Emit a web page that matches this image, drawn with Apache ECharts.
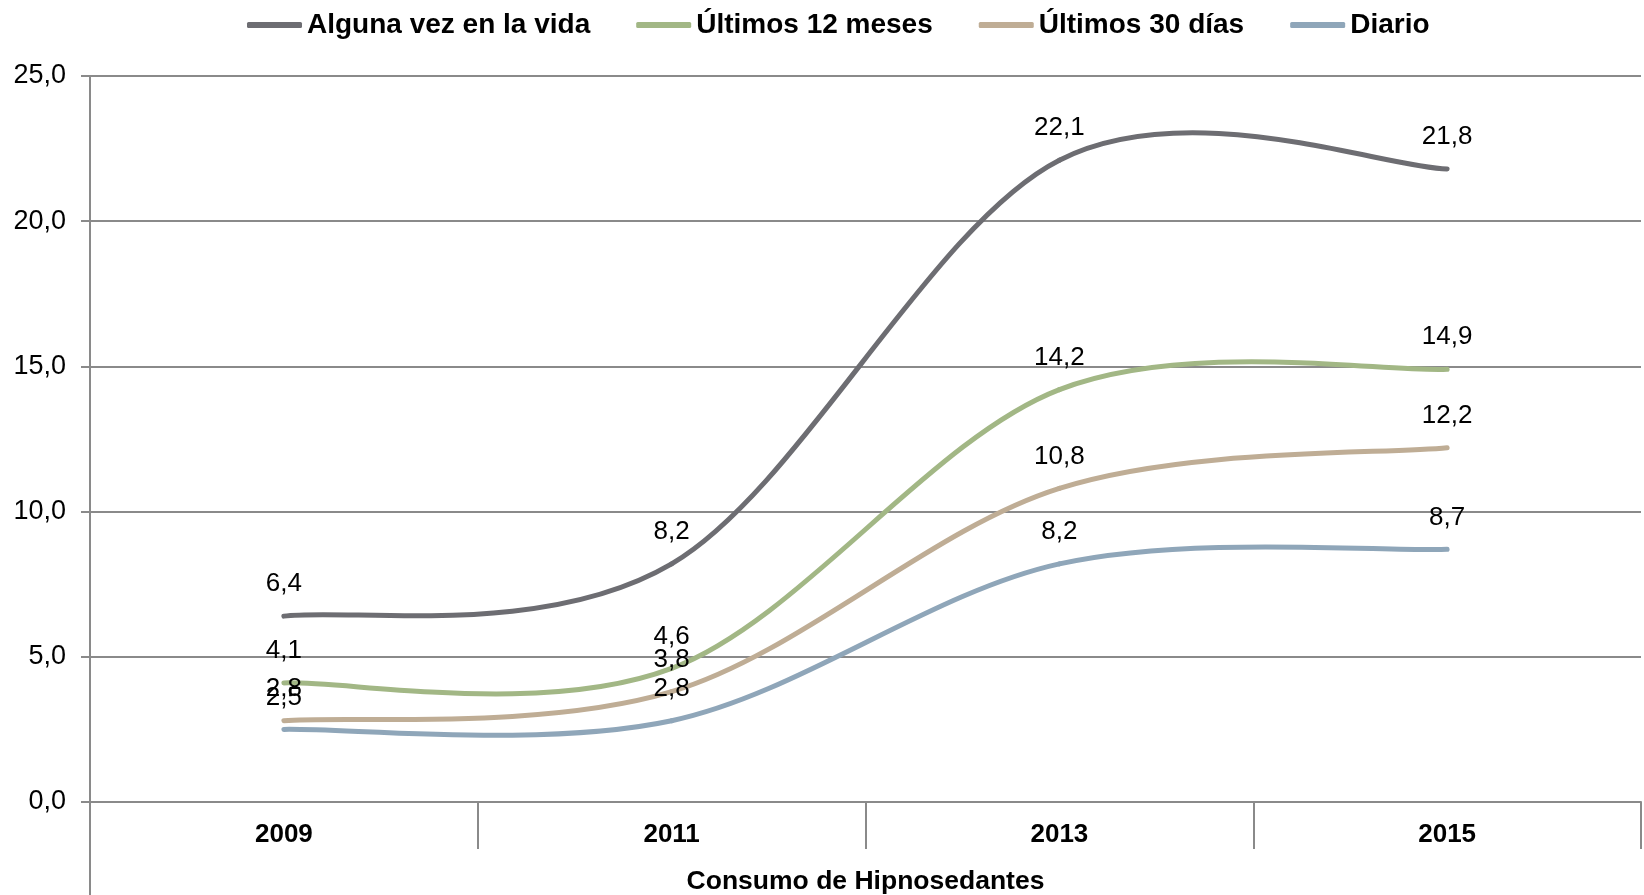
<!DOCTYPE html>
<html style="height: 100%">
    <head>
        <meta charset="utf-8">
    </head>
    <body style="height: 100%; margin: 0; background: #fff">
        <div id="container" style="width: 1644px; height: 895px"></div>

        <script type="text/javascript" src="https://cdn.jsdelivr.net/npm/echarts@6/dist/echarts.min.js"></script>

        <script type="text/javascript">
var years = ['2009', '2011', '2013', '2015'];
var yTicks = [0, 5, 10, 15, 20, 25];

var seriesNames = ['Alguna vez en la vida', 'Últimos 12 meses', 'Últimos 30 días', 'Diario'];
var algunaVez = [6.4, 8.2, 22.1, 21.8];
var ultimos12 = [4.1, 4.6, 14.2, 14.9];
var ultimos30 = [2.8, 3.8, 10.8, 12.2];
var diario = [2.5, 2.8, 8.2, 8.7];

var colors = ['#6d6d72', '#a2b785', '#bfad95', '#8fa6b9'];

var FONT = 'Liberation Sans, Arial, sans-serif';
var GRID_LEFT = 90, GRID_RIGHT = 3, GRID_TOP = 76, GRID_BOTTOM = 93;
var AXIS_COLOR = '#8a8a8a';

function comma(v) {
    return Number(v).toFixed(1).replace('.', ',');
}

var dom = document.getElementById('container');
var myChart = echarts.init(dom);

// Excel style smoothed line: each item draws the bezier to the next point
// (control points from the neighbours, factor 1/6) plus its value label
var makeSeries = function (name, values, color) {
    var n = values.length;
    return {
        name: name,
        type: 'custom',
        data: values.map(function (v, i) { return [i, v]; }),
        encode: { x: 0, y: 1 },
        itemStyle: { color: color },
        renderItem: function (params, api) {
            var i = params.dataIndex;
            var pts = values.map(function (v, k) { return api.coord([k, v]); });
            var children = [];
            if (i < n - 1) {
                var p0 = pts[Math.max(i - 1, 0)];
                var p1 = pts[i];
                var p2 = pts[i + 1];
                var p3 = pts[Math.min(i + 2, n - 1)];
                children.push({
                    type: 'bezierCurve',
                    shape: {
                        x1: p1[0], y1: p1[1],
                        x2: p2[0], y2: p2[1],
                        cpx1: p1[0] + (p2[0] - p0[0]) / 6,
                        cpy1: p1[1] + (p2[1] - p0[1]) / 6,
                        cpx2: p2[0] - (p3[0] - p1[0]) / 6,
                        cpy2: p2[1] - (p3[1] - p1[1]) / 6
                    },
                    style: { stroke: color, lineWidth: 5, fill: null, lineCap: 'round' }
                });
            }
            children.push({
                type: 'text',
                x: pts[i][0],
                y: pts[i][1] - 32,
                z2: 10,
                style: {
                    text: comma(values[i]),
                    fill: '#000',
                    fontFamily: FONT,
                    fontSize: 26,
                    align: 'center',
                    verticalAlign: 'middle'
                }
            });
            return { type: 'group', children: children };
        },
        animation: false
    };
};

var option = {
    backgroundColor: '#fff',
    color: colors,
    legend: {
        top: 11,
        left: 247,
        padding: 0,
        itemWidth: 55,
        itemHeight: 6,
        itemGap: 46,
        icon: 'roundRect',
        textStyle: {
            fontFamily: FONT,
            fontSize: 28,
            fontWeight: 'bold',
            color: '#000'
        },
        data: seriesNames
    },
    grid: {
        left: GRID_LEFT,
        right: GRID_RIGHT,
        top: GRID_TOP,
        bottom: GRID_BOTTOM,
        containLabel: false,
        outerBoundsMode: 'none'
    },
    xAxis: {
        type: 'category',
        data: years,
        boundaryGap: true,
        name: 'Consumo de Hipnosedantes',
        nameLocation: 'middle',
        nameGap: 66,
        nameTextStyle: {
            fontFamily: FONT,
            fontSize: 26.5,
            fontWeight: 'bold',
            color: '#000'
        },
        axisLine: { show: true, lineStyle: { color: AXIS_COLOR, width: 2 } },
        axisTick: {
            show: true,
            alignWithLabel: false,
            length: 47,
            lineStyle: { color: AXIS_COLOR, width: 2 }
        },
        axisLabel: {
            fontFamily: FONT,
            fontSize: 26,
            fontWeight: 'bold',
            color: '#000',
            margin: 20
        }
    },
    yAxis: {
        type: 'value',
        min: yTicks[0],
        max: yTicks[yTicks.length - 1],
        interval: 5,
        axisLine: { show: true, lineStyle: { color: AXIS_COLOR, width: 2 } },
        axisTick: { show: true, length: 9, lineStyle: { color: AXIS_COLOR, width: 2 } },
        splitLine: { show: true, lineStyle: { color: AXIS_COLOR, width: 2 } },
        axisLabel: {
            fontFamily: FONT,
            fontSize: 27,
            color: '#000',
            margin: 24,
            formatter: function (v) { return comma(v); }
        }
    },
    graphic: [
        {
            type: 'line',
            shape: { x1: GRID_LEFT, y1: 895 - GRID_BOTTOM, x2: GRID_LEFT, y2: 895 },
            style: { stroke: AXIS_COLOR, lineWidth: 2 }
        }
    ],
    series: [
        makeSeries(seriesNames[0], algunaVez, colors[0]),
        makeSeries(seriesNames[1], ultimos12, colors[1]),
        makeSeries(seriesNames[2], ultimos30, colors[2]),
        makeSeries(seriesNames[3], diario, colors[3])
    ]
};

myChart.setOption(option);
        </script>
    </body>
</html>
